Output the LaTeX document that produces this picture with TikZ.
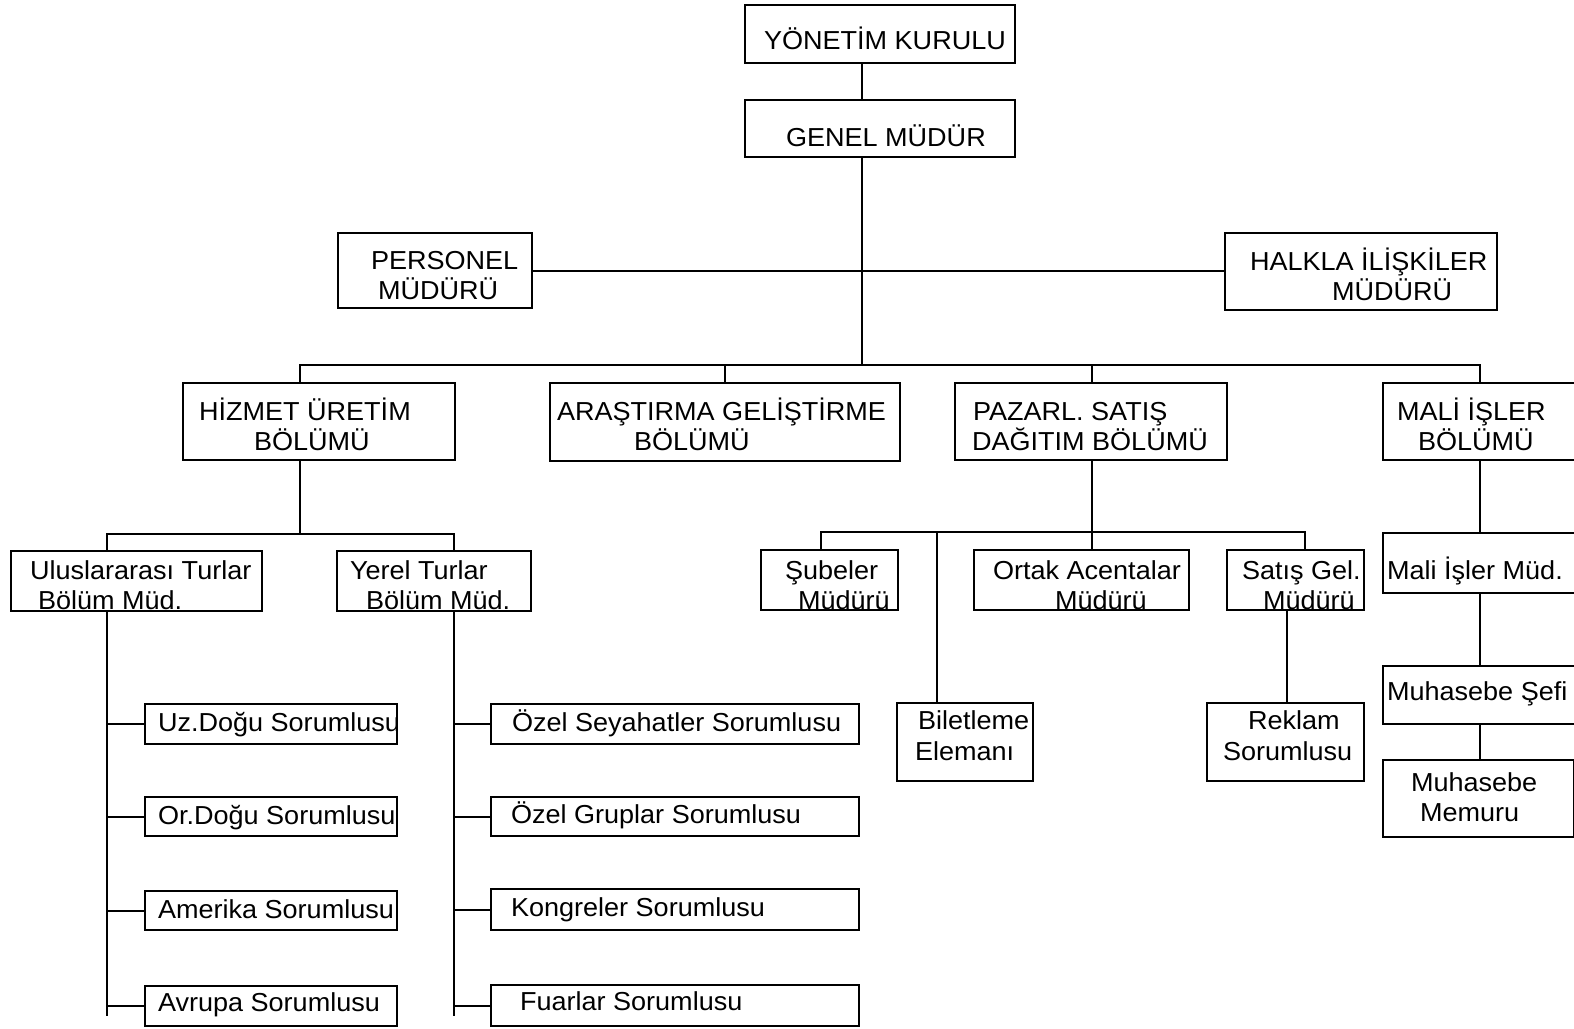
\documentclass[tikz,border=0pt]{standalone}
\usepackage{fontspec}
\setmainfont[FakeStretch=1.04]{Liberation Sans}
\usetikzlibrary{fit}
\begin{document}
\begin{tikzpicture}[x=1pt,y=-1pt,line width=2pt,
  box/.style={draw,inner sep=0pt,line width=2pt},
  txt/.style={anchor=base west,inner sep=0pt,font=\fontsize{26}{30}\selectfont}]
\useasboundingbox (0,0) rectangle (1574,1028);
% boxes
\node[box,fit={(745,5)(1015,63)}] (yk) {};
\node[box,fit={(745,100)(1015,157)}] (gm) {};
\node[box,fit={(338,233)(532,308)}] (per) {};
\node[box,fit={(1225,233)(1497,310)}] (hal) {};
\node[box,fit={(183,383)(455,460)}] (hiz) {};
\node[box,fit={(550,383)(900,461)}] (ara) {};
\node[box,fit={(955,383)(1227,460)}] (paz) {};
\node[box,fit={(1383,383)(1610,460)}] (mal) {};
\node[box,fit={(11,551)(262,611)}] (ulu) {};
\node[box,fit={(337,551)(531,611)}] (yer) {};
\node[box,fit={(761,550)(898,610)}] (sub) {};
\node[box,fit={(974,550)(1189,610)}] (ort) {};
\node[box,fit={(1227,550)(1364,610)}] (sat) {};
\node[box,fit={(1383,533)(1610,593)}] (mim) {};
\node[box,fit={(897,703)(1033,781)}] (bil) {};
\node[box,fit={(1207,703)(1364,781)}] (rek) {};
\node[box,fit={(1383,666)(1610,724)}] (msf) {};
\node[box,fit={(1383,760)(1574,837)}] (mmm) {};
\node[box,fit={(145,704)(397,744)}] (uz) {};
\node[box,fit={(145,797)(397,836)}] (or) {};
\node[box,fit={(145,891)(397,930)}] (am) {};
\node[box,fit={(145,986)(397,1026)}] (av) {};
\node[box,fit={(491,704)(859,744)}] (oz1) {};
\node[box,fit={(491,797)(859,836)}] (oz2) {};
\node[box,fit={(491,889)(859,930)}] (kon) {};
\node[box,fit={(491,985)(859,1026)}] (fua) {};
% texts
\node[txt] (yk-a) at (763,49) {YÖNETİM KURULU};
\node[txt] (gm-a) at (785,146) {GENEL MÜDÜR};
\node[txt] (per-a) at (370,269) {PERSONEL};
\node[txt] (per-b) at (377,299) {MÜDÜRÜ};
\node[txt] (hal-a) at (1249,270) {HALKLA İLİŞKİLER};
\node[txt] (hal-b) at (1331,300) {MÜDÜRÜ};
\node[txt] (hiz-a) at (198,420) {HİZMET ÜRETİM};
\node[txt] (hiz-b) at (253,450) {BÖLÜMÜ};
\node[txt] (ara-a) at (556,420) {ARAŞTIRMA GELİŞTİRME};
\node[txt] (ara-b) at (633,450) {BÖLÜMÜ};
\node[txt] (paz-a) at (972,420) {PAZARL. SATIŞ};
\node[txt] (paz-b) at (971,450) {DAĞITIM BÖLÜMÜ};
\node[txt] (mal-a) at (1396,420) {MALİ İŞLER};
\node[txt] (mal-b) at (1417,450) {BÖLÜMÜ};
\node[txt] (ulu-a) at (29,579) {Uluslararası Turlar};
\node[txt] (ulu-b) at (37,609) {Bölüm Müd.};
\node[txt] (yer-a) at (349,579) {Yerel Turlar};
\node[txt] (yer-b) at (365,609) {Bölüm Müd.};
\node[txt] (sub-a) at (784,579) {Şubeler};
\node[txt] (sub-b) at (797,609) {Müdürü};
\node[txt] (ort-a) at (992,579) {Ortak Acentalar};
\node[txt] (ort-b) at (1054,609) {Müdürü};
\node[txt] (sat-a) at (1241,579) {Satış Gel.};
\node[txt] (sat-b) at (1262,609) {Müdürü};
\node[txt] (mim-a) at (1386,579) {Mali İşler Müd.};
\node[txt] (bil-a) at (917,729) {Biletleme};
\node[txt] (bil-b) at (914,760) {Elemanı};
\node[txt] (rek-a) at (1247,729) {Reklam};
\node[txt] (rek-b) at (1222,760) {Sorumlusu};
\node[txt] (msf-a) at (1386,700) {Muhasebe Şefi};
\node[txt] (mmm-a) at (1410,791) {Muhasebe};
\node[txt] (mmm-b) at (1419,821) {Memuru};
\node[txt] (uz-a) at (157,731) {Uz.Doğu Sorumlusu};
\node[txt] (or-a) at (157,824) {Or.Doğu Sorumlusu};
\node[txt] (am-a) at (157,918) {Amerika Sorumlusu};
\node[txt] (av-a) at (157,1011) {Avrupa Sorumlusu};
\node[txt] (oz1-a) at (511,731) {Özel Seyahatler Sorumlusu};
\node[txt] (oz2-a) at (510,823) {Özel Gruplar Sorumlusu};
\node[txt] (kon-a) at (510,916) {Kongreler Sorumlusu};
\node[txt] (fua-a) at (519,1010) {Fuarlar Sorumlusu};
% connector guides
\coordinate (spine) at (862,0);
\coordinate (bus1) at (0,365);
\coordinate (xh) at (300,0);
\coordinate (xa) at (725,0);
\coordinate (xp) at (1092,0);
\coordinate (xm) at (1480,0);
\coordinate (bus2) at (0,534);
\coordinate (xu) at (107,0);
\coordinate (xy) at (454,0);
\coordinate (uend) at (107,1016);
\coordinate (yend) at (454,1016);
\coordinate (bus3) at (0,532);
\coordinate (xs) at (821,0);
\coordinate (xb) at (937,0);
\coordinate (xg) at (1305,0);
\coordinate (xr) at (1287,0);
% connectors
\draw (yk.south -| spine) -- (gm.north -| spine);
\draw (gm.south -| spine) -- (bus1 -| spine);
\draw (per.east) -- (per.east -| hal.west);
\draw (hiz.north -| xh) -- (bus1 -| xh) -- (bus1 -| xm) -- (mal.north -| xm);
\draw (bus1 -| xa) -- (ara.north -| xa);
\draw (bus1 -| xp) -- (paz.north -| xp);
\draw (hiz.south -| xh) -- (bus2 -| xh);
\draw (ulu.north -| xu) -- (bus2 -| xu) -- (bus2 -| xy) -- (yer.north -| xy);
\draw (ulu.south -| xu) -- (uend);
\draw (yer.south -| xy) -- (yend);
\foreach \b in {uz,or,am,av} \draw (\b.west -| xu) -- (\b.west);
\foreach \b in {oz1,oz2,kon,fua} \draw (\b.west -| xy) -- (\b.west);
\draw (paz.south -| xp) -- (ort.north -| xp);
\draw (sub.north -| xs) -- (bus3 -| xs) -- (bus3 -| xg) -- (sat.north -| xg);
\draw (bus3 -| xb) -- (bil.north -| xb);
\draw (sat.south -| xr) -- (rek.north -| xr);
\draw (mal.south -| xm) -- (mim.north -| xm);
\draw (mim.south -| xm) -- (msf.north -| xm);
\draw (msf.south -| xm) -- (mmm.north -| xm);
\end{tikzpicture}
\end{document}
